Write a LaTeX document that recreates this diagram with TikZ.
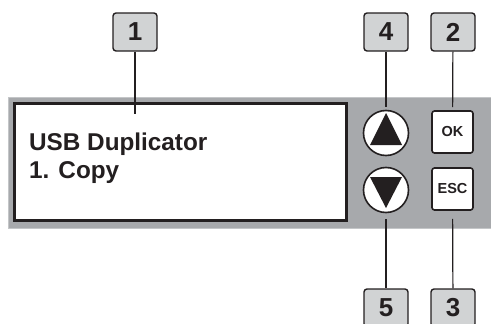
\documentclass[tikz,border=0pt]{standalone}
\usepackage{fontspec}
\setmainfont{Liberation Sans}
\usetikzlibrary{positioning}
\usetikzlibrary{calc}
\definecolor{panelgray}{HTML}{A7A9AC}
\definecolor{panelrim}{HTML}{C4C6C8}
\definecolor{tagfill}{HTML}{D1D3D4}
\definecolor{ink}{HTML}{231F20}
\tikzset{
    tagnode/.style = {rectangle, rounded corners=3pt, line width=1.4pt, draw=ink, fill=tagfill, minimum width=44pt, minimum height=38pt, inner sep=0pt, font=\bfseries\fontsize{26}{26}\selectfont, text=ink},
    keynode/.style = {rectangle, rounded corners=2.5pt, line width=1.6pt, draw=ink, fill=white, minimum width=41pt, minimum height=42pt, inner sep=0pt, font=\bfseries\fontsize{14.5}{14.5}\selectfont, text=ink},
    arrownode/.style = {circle, line width=1.6pt, draw=ink, fill=white, minimum size=45pt, inner sep=0pt},
    lcdtext/.style = {anchor=base west, inner sep=0pt, font=\bfseries\fontsize{24.3}{24.3}\selectfont, text=ink},
    edgen/.style = {-, line width=1.2pt, ink}
}
\begin{document}
\begin{tikzpicture}[x=1pt,y=-1pt]
\useasboundingbox (0,0) rectangle (491,324);
% panel and display
\fill[panelgray, draw=panelrim, line width=1pt] (8,97) rectangle (497,228);
\node[draw=ink, fill=white, line width=2.2pt, minimum width=332pt, minimum height=117pt, inner sep=0pt] at (180.5,162) (lcd) {};
\node[lcdtext] at (29,150) (line1) {USB Duplicator};
\node[lcdtext] at (29,178) (line2) {1. Copy};
% keys
\node[arrownode] at (386,133) (up) {};
\node[arrownode] at (386,190) (down) {};
\fill[ink] ([shift={(0,-20)}]up.center) -- ([shift={(16,12)}]up.center) -- ([shift={(-16,12)}]up.center) -- cycle;
\fill[ink] ([shift={(0,18)}]down.center) -- ([shift={(16,-13)}]down.center) -- ([shift={(-16,-13)}]down.center) -- cycle;
\node[keynode] at (452.5,132) (ok) {OK};
\node[keynode] at (452.5,189) (esc) {ESC};
% tags
\node[tagnode] at (135,32) (t1) {1};
\node[tagnode] at (386,32) (t4) {4};
\node[tagnode] at (453,32) (t2) {2};
\node[tagnode] at (386,308) (t5) {5};
\node[tagnode] at (453,308) (t3) {3};
\coordinate (p1) at (135,114);
%
\draw[edgen] (t1) -- (p1);
\draw[edgen,shorten >=3pt] (t4) -- (up);
\draw[edgen,shorten >=3pt] (t2) -- (ok);
\draw[edgen,shorten <=6pt] (down) -- (t5);
\draw[edgen,shorten <=8pt] (esc) -- (t3);
\end{tikzpicture}
\end{document}
